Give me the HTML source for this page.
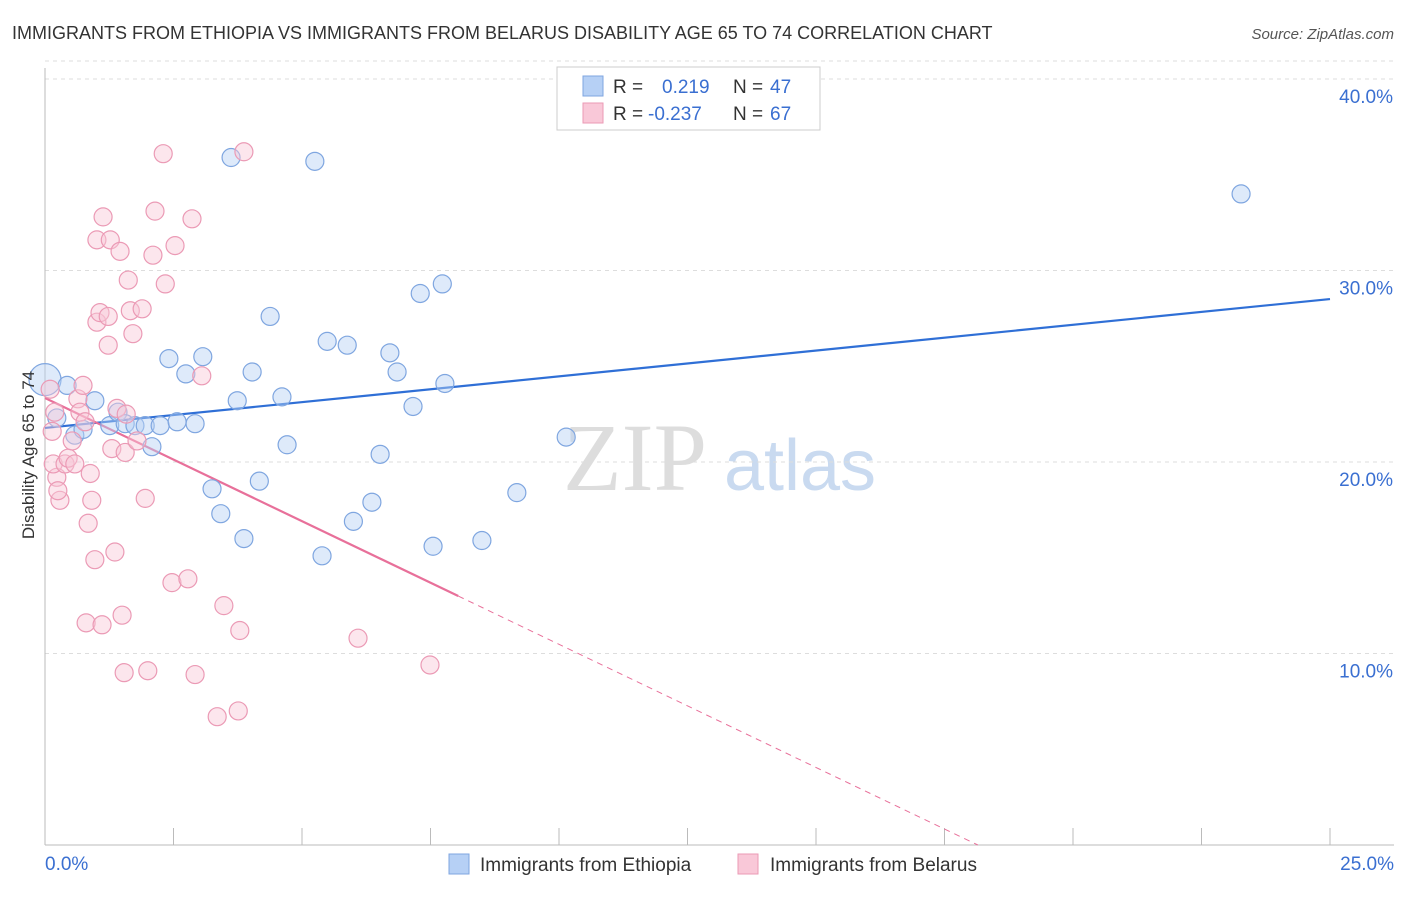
<!DOCTYPE html>
<html><head><meta charset="utf-8"><style>
body{margin:0;background:#fff;font-family:"Liberation Sans",sans-serif;}
</style></head><body>
<svg id="chart" width="1406" height="892" viewBox="0 0 1406 892" xmlns="http://www.w3.org/2000/svg" font-family="Liberation Sans, sans-serif">
<text x="12" y="39" font-size="18" fill="#333">IMMIGRANTS FROM ETHIOPIA VS IMMIGRANTS FROM BELARUS DISABILITY AGE 65 TO 74 CORRELATION CHART</text>
<text x="1394" y="39" font-size="15" fill="#555" text-anchor="end" font-style="italic">Source: ZipAtlas.com</text>
<g>
<text x="635" y="490" font-size="96" fill="#ddd" font-family="Liberation Serif, serif" text-anchor="middle">ZIP</text>
<text x="800" y="490" font-size="72" fill="#c9daf0" text-anchor="middle">atlas</text>
</g>
<g id="grid"></g><g id="axes"></g><g id="lines"></g><g id="points"></g>
<text transform="translate(34,455) rotate(-90)" font-size="17" fill="#333" text-anchor="middle">Disability Age 65 to 74</text>
<g>
<rect x="557" y="67" width="263" height="63" fill="#fff" stroke="#ccc"/>
<rect x="583" y="76" width="20" height="20" fill="#b6d0f5" stroke="#7fa6e0"/>
<rect x="583" y="103" width="20" height="20" fill="#f9c8d8" stroke="#eb9ab5"/>
<text x="613" y="93" font-size="19" fill="#333">R =</text>
<text x="662" y="93" font-size="19" fill="#3a6fd1">0.219</text>
<text x="733" y="93" font-size="19" fill="#333">N =</text>
<text x="770" y="93" font-size="19" fill="#3a6fd1">47</text>
<text x="613" y="120" font-size="19" fill="#333">R =</text>
<text x="648" y="120" font-size="19" fill="#3a6fd1">-0.237</text>
<text x="733" y="120" font-size="19" fill="#333">N =</text>
<text x="770" y="120" font-size="19" fill="#3a6fd1">67</text>
</g>
<g>
<rect x="449" y="854" width="20" height="20" fill="#b6d0f5" stroke="#7fa6e0"/>
<text x="480" y="871" font-size="19" fill="#333">Immigrants from Ethiopia</text>
<rect x="738" y="854" width="20" height="20" fill="#f9c8d8" stroke="#eb9ab5"/>
<text x="770" y="871" font-size="19" fill="#333">Immigrants from Belarus</text>
</g>
</svg>
<script>
const yTicks=[10,20,30,40];
const yTickLabels=["10.0%","20.0%","30.0%","40.0%"];
const xEnds=["0.0%","25.0%"];
const blueX=[0,0.43,0.23,0.97,0.58,0.74,1.26,1.42,1.56,1.75,1.95,2.08,2.24,2.41,2.57,2.74,2.92,3.07,3.25,3.42,3.62,3.74,3.87,4.03,4.17,4.38,4.61,4.71,5.25,5.39,5.49,5.88,6.0,6.36,6.52,6.71,6.85,7.16,7.30,7.55,7.73,7.78,8.50,9.18,10.14,23.27];
const blueY=[24.3,24.0,22.3,23.2,21.4,21.7,21.9,22.6,22.0,21.9,21.9,20.8,21.9,25.4,22.1,24.6,22.0,25.5,18.6,17.3,35.9,23.2,16.0,24.7,19.0,27.6,23.4,20.9,35.7,15.1,26.3,26.1,16.9,17.9,20.4,25.7,24.7,22.9,28.8,15.6,29.3,24.1,15.9,18.4,21.3,34.0];
const pinkX=[0.1,0.14,0.19,0.23,0.16,0.29,0.25,0.39,0.45,0.53,0.58,0.64,0.68,0.74,0.78,0.84,0.88,0.91,0.97,0.80,1.01,1.01,1.07,1.13,1.11,1.23,1.23,1.27,1.30,1.36,1.40,1.46,1.50,1.54,1.56,1.58,1.62,1.66,1.71,1.79,1.89,1.95,2.00,2.10,2.14,2.30,2.34,2.47,2.53,2.78,2.86,2.92,3.05,3.35,3.48,3.76,3.79,3.87,6.09,7.49];
const pinkY=[23.8,21.6,22.6,19.2,19.9,18.0,18.5,19.9,20.2,21.1,19.9,23.3,22.6,24.0,22.1,16.8,19.4,18.0,14.9,11.6,31.6,27.3,27.8,32.8,11.5,26.1,27.6,31.6,20.7,15.3,22.8,31.0,12.0,9.0,20.5,22.5,29.5,27.9,26.7,21.1,28.0,18.1,9.1,30.8,33.1,36.1,29.3,13.7,31.3,13.9,32.7,8.9,24.5,6.7,12.5,7.0,11.2,36.2,10.8,9.4];
const blueFit=[21.78,28.51];
const pinkFit=[23.34,-1.286];
const pinkSolidEnd=8.04;

const NS="http://www.w3.org/2000/svg";
const sx=v=>45+v/25*1285;
const sy=v=>845-v*19.15;
function mk(tag,attrs,parent){const e=document.createElementNS(NS,tag);for(const k in attrs)e.setAttribute(k,attrs[k]);document.getElementById(parent).appendChild(e);return e;}
const g0=document.getElementById('grid');
yTicks.forEach((t,i)=>{
  const l=mk('line',{x1:45,x2:1394,y1:sy(t),y2:sy(t),stroke:'#ddd','stroke-dasharray':'4,4'},'grid');
  
  
  const tx=mk('text',{x:1393,y:sy(t)+24,'font-size':19,fill:'#3a6fd1','text-anchor':'end'},'grid');
  tx.textContent=yTickLabels[i];
  
  
});
{const l=mk('line',{x1:45,x2:1394,y1:sy(40)-18,y2:sy(40)-18,stroke:'#ddd','stroke-dasharray':'4,4'},'grid');

}
const ax=mk('line',{x1:45,x2:1394,y1:845,y2:845,stroke:'#bbb'},'axes');


const ay=mk('line',{x1:45,x2:45,y1:68,y2:845,stroke:'#bbb'},'axes');


for(let i=0;i<=10;i++){const t=mk('line',{x1:sx(i*2.5),x2:sx(i*2.5),y1:828,y2:845,stroke:'#bbb'},'axes');

}
[[0,'start',45],[25,'end',1394]].forEach((d,i)=>{const t=mk('text',{x:d[2],y:870,'font-size':19,fill:'#3a6fd1','text-anchor':d[1]},'axes');t.textContent=xEnds[i];

});
function dot(x,y,c,s,r){const e=mk('circle',{cx:sx(x),cy:sy(y),r:r,fill:c,'fill-opacity':0.45,stroke:s,'stroke-width':1.2},'points');return e;}
blueX.forEach((x,i)=>{const e=dot(x,blueY[i],'#b6d0f5','#7fa6e0',i===0?16:9);

});
pinkX.forEach((x,i)=>{const e=dot(x,pinkY[i],'#f9c8d8','#eb9ab5',9);

});
const bl=mk('line',{x1:sx(0),y1:sy(blueFit[0]),x2:sx(25),y2:sy(blueFit[1]),stroke:'#2f6fd6','stroke-width':2.2},'lines');


const pf=x=>pinkFit[0]+pinkFit[1]*x;
const pl=mk('line',{x1:sx(0),y1:sy(pf(0)),x2:sx(pinkSolidEnd),y2:sy(pf(pinkSolidEnd)),stroke:'#e8709a','stroke-width':2.2},'lines');


const xz=-pinkFit[0]/pinkFit[1];
const pd=mk('line',{x1:sx(pinkSolidEnd),y1:sy(pf(pinkSolidEnd)),x2:sx(xz),y2:sy(0),stroke:'#e8709a','stroke-width':1,'stroke-dasharray':'6,5'},'lines');


</script>
</body></html>
